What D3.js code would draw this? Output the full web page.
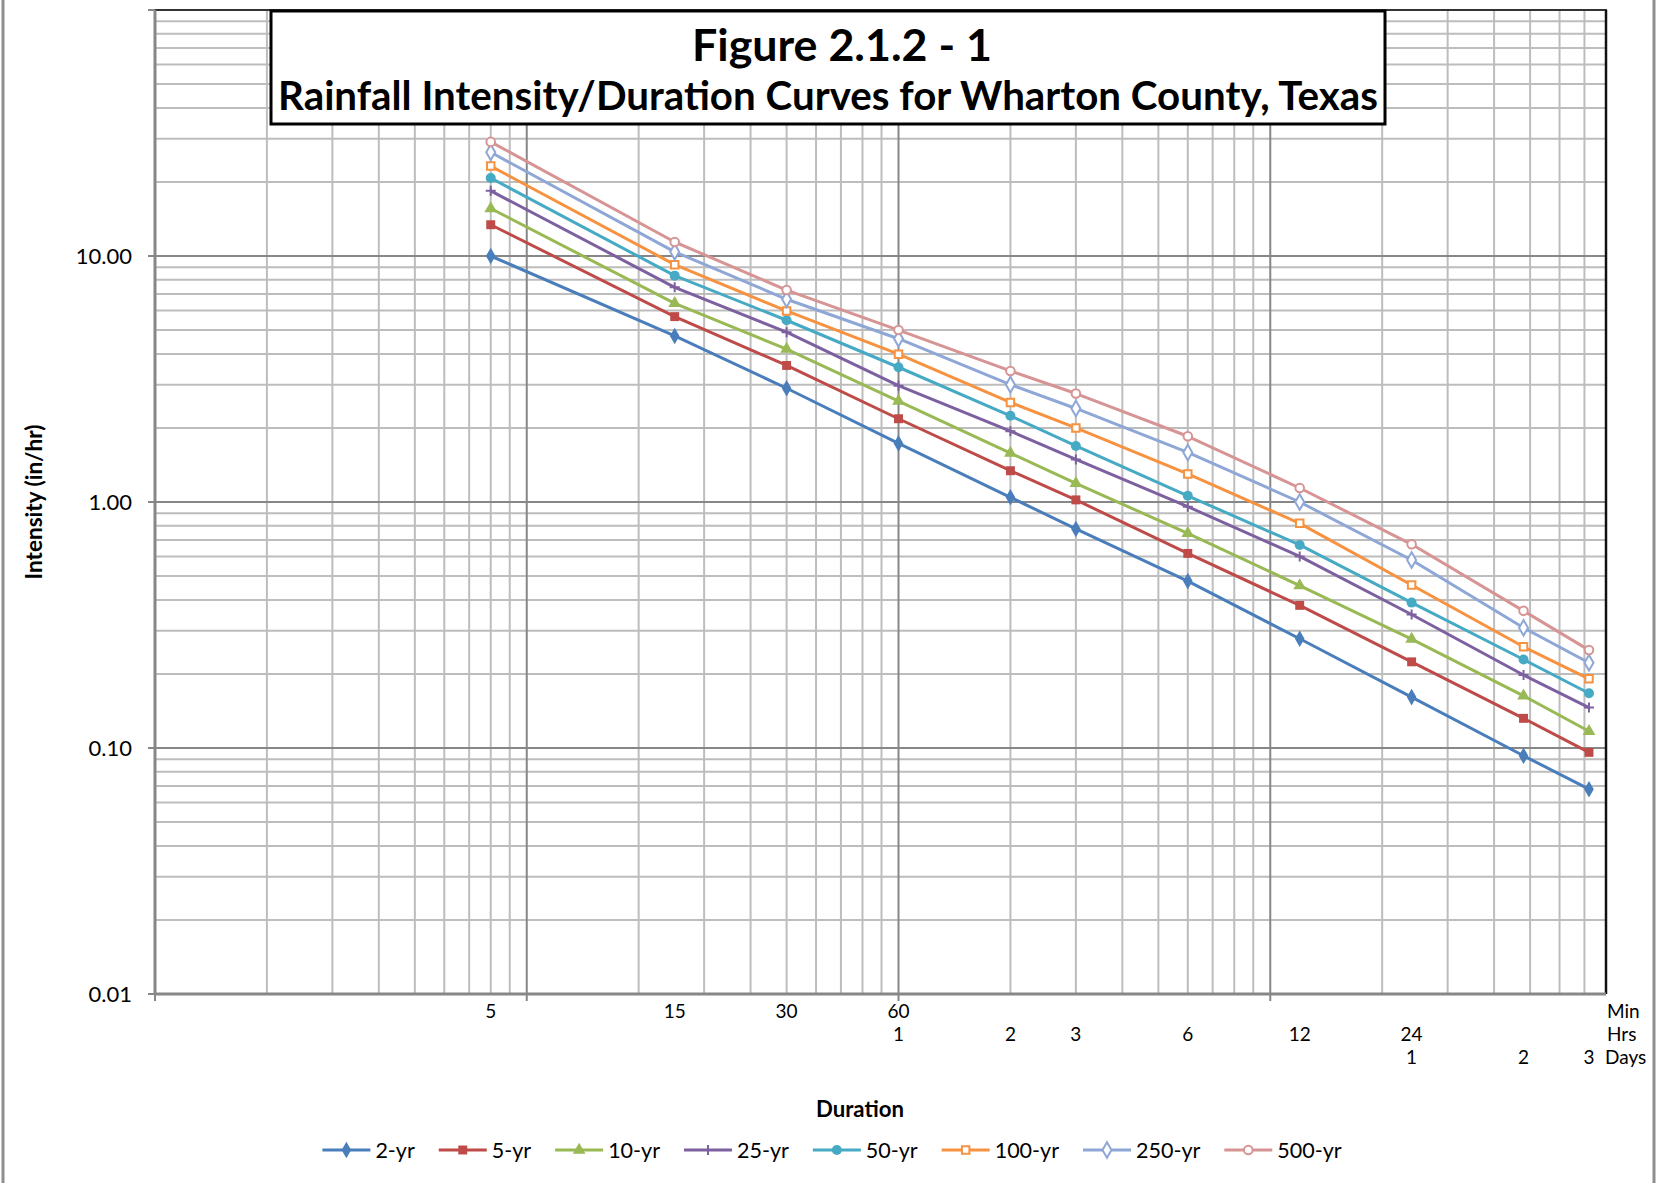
<!DOCTYPE html>
<html><head><meta charset="utf-8">
<script src="https://cdn.jsdelivr.net/npm/d3@7"></script>
<style>body{margin:0;background:#fff;} svg{display:block;} text{font-family:Lato,"Open Sans",sans-serif;fill:#000;}</style>
</head><body><svg id="c" width="1659" height="1183"></svg>
<script>
// ---- data ----
const durationsHr = [0.08, 0.25, 0.5, 1, 2, 3, 6, 12, 24, 48, 72];
const seriesNames = ["2-yr","5-yr","10-yr","25-yr","50-yr","100-yr","250-yr","500-yr"];
const yr2   = [10.0, 4.73, 2.90, 1.73, 1.045, 0.777, 0.477, 0.278, 0.161, 0.093, 0.068];
const yr5   = [13.4, 5.67, 3.59, 2.18, 1.34, 1.02, 0.618, 0.380, 0.224, 0.132, 0.096];
const yr10  = [15.6, 6.42, 4.18, 2.57, 1.58, 1.19, 0.746, 0.457, 0.277, 0.163, 0.117];
const yr25  = [18.4, 7.46, 4.90, 2.97, 1.94, 1.49, 0.957, 0.601, 0.349, 0.198, 0.146];
const yr50  = [20.75, 8.32, 5.48, 3.53, 2.24, 1.69, 1.06, 0.669, 0.390, 0.229, 0.167];
const yr100 = [23.2, 9.22, 5.98, 3.99, 2.54, 2.00, 1.30, 0.819, 0.460, 0.258, 0.191];
const yr250 = [26.4, 10.4, 6.67, 4.61, 3.00, 2.40, 1.59, 1.00, 0.581, 0.308, 0.222];
const yr500 = [29.1, 11.4, 7.27, 5.00, 3.41, 2.76, 1.85, 1.14, 0.673, 0.361, 0.250];
const seriesValues = [yr2, yr5, yr10, yr25, yr50, yr100, yr250, yr500];
const yTickValues = [0.01, 0.1, 1, 10];
const yTickLabels = ["0.01", "0.10", "1.00", "10.00"];
const minLabels = ["5", "15", "30", "60"];
const minLabelAt = [0.08, 0.25, 0.5, 1];
const hrLabels = ["1", "2", "3", "6", "12", "24"];
const hrLabelAt = [1, 2, 3, 6, 12, 24];
const dayLabels = ["1", "2", "3"];
const dayLabelAt = [24, 48, 72];
const unitLabels = ["Min", "Hrs", "Days"];
const titleLines = ["Figure 2.1.2 - 1", "Rainfall Intensity/Duration Curves for Wharton County, Texas"];

// ---- styles ----
const colors = ["#4A7EBB","#BE4B48","#98B954","#7D60A0","#46AAC5","#F69240","#8EA7D6","#D69594"];
const markers = ["diamond","square","triangle","plus","circle","osquare","odiamond","ocircle"];

const svg = d3.select("#c");
const L = 155, R = 1606, T = 10, B = 994;
const x = d3.scaleLog().domain([0.01, 80]).range([L, R]);
const y = d3.scaleLog().domain([0.01, 100]).range([B, T]);

// outer chart border (left/right)
svg.append("line").attr("x1",3).attr("x2",3).attr("y1",0).attr("y2",1183).attr("stroke","#8f8f8f").attr("stroke-width",3);
svg.append("line").attr("x1",1654).attr("x2",1654).attr("y1",0).attr("y2",1183).attr("stroke","#8f8f8f").attr("stroke-width",3);

// gridlines
function logVals(lo, hi){ const out=[]; for(let e=-3;e<=3;e++){ for(let m=1;m<=9;m++){ const v=+(m*Math.pow(10,e)).toPrecision(6); if(v>=lo-1e-12 && v<=hi+1e-12) out.push({v, major:m===1}); } } return out; }
const xg = logVals(0.01, 80), yg = logVals(0.01, 100);
const grid = svg.append("g");
grid.selectAll(".xm").data(xg.filter(d=>!d.major)).join("line")
  .attr("x1",d=>x(d.v)).attr("x2",d=>x(d.v)).attr("y1",T).attr("y2",B).attr("stroke","#bdbdbd").attr("stroke-width",2);
grid.selectAll(".ym").data(yg.filter(d=>!d.major)).join("line")
  .attr("y1",d=>y(d.v)).attr("y2",d=>y(d.v)).attr("x1",L).attr("x2",R).attr("stroke","#bdbdbd").attr("stroke-width",2);
grid.selectAll(".xM").data(xg.filter(d=>d.major)).join("line")
  .attr("x1",d=>x(d.v)).attr("x2",d=>x(d.v)).attr("y1",T).attr("y2",B).attr("stroke","#878787").attr("stroke-width",2);
grid.selectAll(".yM").data(yg.filter(d=>d.major)).join("line")
  .attr("y1",d=>y(d.v)).attr("y2",d=>y(d.v)).attr("x1",L).attr("x2",R).attr("stroke","#878787").attr("stroke-width",2);

// plot frame top/right
svg.append("line").attr("x1",L).attr("x2",R+1).attr("y1",T).attr("y2",T).attr("stroke","#333").attr("stroke-width",2);
svg.append("line").attr("x1",R).attr("x2",R).attr("y1",T).attr("y2",B).attr("stroke","#111").attr("stroke-width",2.5);

// axes
svg.append("line").attr("x1",L).attr("x2",L).attr("y1",T).attr("y2",B+1).attr("stroke","#878787").attr("stroke-width",3);
svg.append("line").attr("x1",L-1).attr("x2",R).attr("y1",B).attr("y2",B).attr("stroke","#878787").attr("stroke-width",3);
// major ticks
svg.selectAll(".xt").data(xg.filter(d=>d.major)).join("line")
  .attr("x1",d=>x(d.v)).attr("x2",d=>x(d.v)).attr("y1",B).attr("y2",B+7).attr("stroke","#878787").attr("stroke-width",2);
svg.selectAll(".yt").data(yg.filter(d=>d.major)).join("line")
  .attr("y1",d=>y(d.v)).attr("y2",d=>y(d.v)).attr("x1",L-7).attr("x2",L).attr("stroke","#878787").attr("stroke-width",2);

// y tick labels
svg.selectAll(".yl").data(yTickValues).join("text")
  .attr("x",132).attr("y",d=>y(d)).attr("dy","0.36em").attr("text-anchor","end").attr("font-size",22)
  .text((d,i)=>yTickLabels[i]);

// x tick labels (three rows)
const rows = [
  {labels:minLabels, at:minLabelAt, y:1018},
  {labels:hrLabels, at:hrLabelAt, y:1041},
  {labels:dayLabels, at:dayLabelAt, y:1064}
];
rows.forEach((r,ri)=>{
  svg.append("g").selectAll("text").data(r.labels).join("text")
    .attr("x",(d,i)=>x(r.at[i])).attr("y",r.y).attr("text-anchor","middle").attr("font-size",19).text(d=>d);
  svg.append("text").attr("x", ri===2 ? R-1 : R+1).attr("y",r.y).attr("text-anchor","start").attr("font-size",19).text(unitLabels[ri]);
});

function fit(sel, target){ const w = sel.node().getComputedTextLength(); const fs = parseFloat(sel.attr("font-size")); sel.attr("font-size", fs*target/w); }

// axis titles
const yt = svg.append("text").attr("transform","translate(42,502) rotate(-90)").attr("text-anchor","middle")
  .attr("font-size",20).attr("font-weight","bold").text("Intensity (in/hr)");
fit(yt, 155);
const xt = svg.append("text").attr("x",860).attr("y",1117).attr("text-anchor","middle")
  .attr("font-size",20).attr("font-weight","bold").text("Duration");
fit(xt, 88);

// series
const line = d3.line().x(d=>x(d[0])).y(d=>y(d[1]));
function drawMarker(g, kind, color){
  if(kind==="diamond") g.append("path").attr("d",d3.symbol(d3.symbolDiamond, 80)()).attr("fill",color);
  else if(kind==="square") g.append("path").attr("d",d3.symbol(d3.symbolSquare, 80)()).attr("fill",color);
  else if(kind==="triangle") g.append("path").attr("d",d3.symbol(d3.symbolTriangle, 70)()).attr("fill",color);
  else if(kind==="plus") g.append("path").attr("d","M-5,0H5M0,-5V5").attr("stroke",color).attr("stroke-width",2).attr("fill","none");
  else if(kind==="circle") g.append("circle").attr("r",5).attr("fill",color);
  else if(kind==="osquare") g.append("path").attr("d",d3.symbol(d3.symbolSquare, 56)()).attr("fill","#fff").attr("stroke",color).attr("stroke-width",2);
  else if(kind==="odiamond") g.append("path").attr("d",d3.symbol(d3.symbolDiamond, 70)()).attr("fill","#fff").attr("stroke",color).attr("stroke-width",2);
  else if(kind==="ocircle") g.append("circle").attr("r",4.3).attr("fill","#fff").attr("stroke",color).attr("stroke-width",2);
}
const sg = svg.append("g");
seriesValues.forEach((vals,si)=>{
  const pts = durationsHr.map((dh,i)=>[dh, vals[i]]);
  sg.append("path").datum(pts).attr("d",line).attr("fill","none").attr("stroke",colors[si]).attr("stroke-width",3).attr("stroke-linejoin","round");
});
seriesValues.forEach((vals,si)=>{
  durationsHr.forEach((dh,i)=>{
    const g = sg.append("g").attr("transform",`translate(${x(dh)},${y(vals[i])})`);
    drawMarker(g, markers[si], colors[si]);
  });
});

// title box
svg.append("rect").attr("x",271).attr("y",11).attr("width",1114).attr("height",113).attr("fill","#fff").attr("stroke","#000").attr("stroke-width",3);
const t1 = svg.append("text").attr("x",842).attr("y",61).attr("text-anchor","middle").attr("font-size",36).attr("font-weight","bold").text(titleLines[0]);
fit(t1, 300);
const t2 = svg.append("text").attr("x",828).attr("y",110).attr("text-anchor","middle").attr("font-size",36).attr("font-weight","bold").text(titleLines[1]);
fit(t2, 1100);

// legend
const lg = svg.append("g");
const items = [];
seriesNames.forEach((name,si)=>{
  const g = lg.append("g");
  g.append("line").attr("x1",0).attr("x2",48).attr("y1",0).attr("y2",0).attr("stroke",colors[si]).attr("stroke-width",3);
  const mg = g.append("g").attr("transform","translate(24,0)");
  drawMarker(mg, markers[si], colors[si]);
  const tx = g.append("text").attr("x",53).attr("y",0).attr("dy","0.36em").attr("font-size",21.5).text(name);
  const w = 53 + tx.node().getComputedTextLength();
  items.push({g, w});
});
const gap = 24;
const total = d3.sum(items, d=>d.w) + gap*(items.length-1);
let px = 832 - total/2;
items.forEach(it=>{ it.g.attr("transform",`translate(${px},1150)`); px += it.w + gap; });
</script></body></html>
